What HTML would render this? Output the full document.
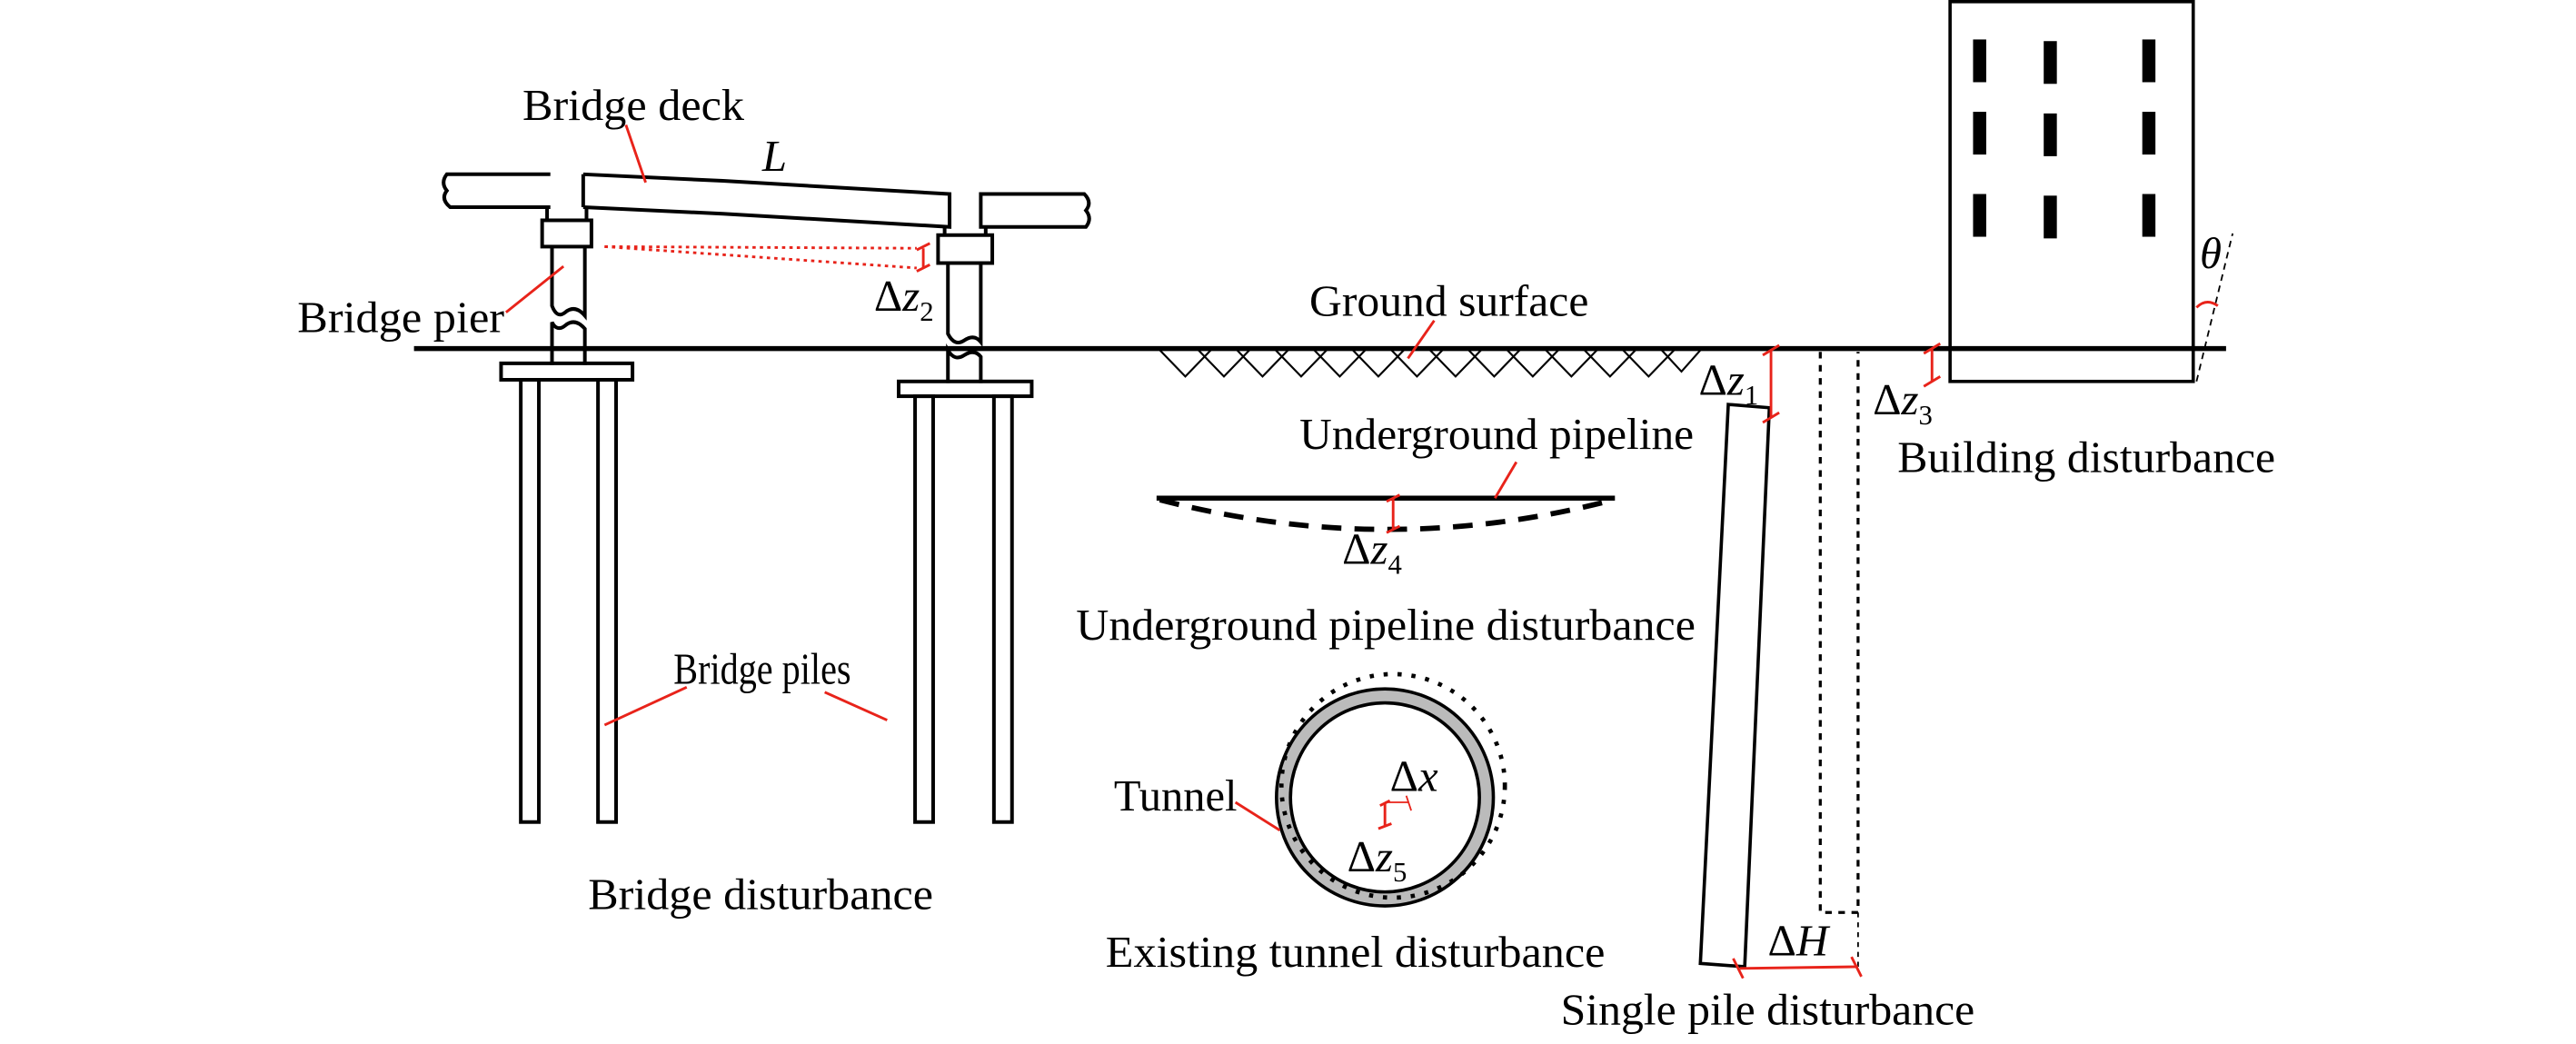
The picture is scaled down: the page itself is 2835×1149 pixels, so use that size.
<!DOCTYPE html>
<html><head><meta charset="utf-8"><style>
html,body{margin:0;padding:0;background:#fff;}
svg{display:block;}
text{font-family:"Liberation Serif",serif;fill:#000;}
</style></head><body>
<svg width="2835" height="1149" viewBox="0 0 1568 635" preserveAspectRatio="none" xmlns="http://www.w3.org/2000/svg">
<g fill="none" stroke="#000" stroke-width="2.2">
<line x1="252" y1="212" x2="1355" y2="212" stroke-width="3"/>
<path stroke-width="1.2" d="M706,213 l15.5,16 l15.5,-16 M729.5,213 l15.5,16 l15.5,-16 M753,213 l15.5,16 l15.5,-16 M776.5,213 l15.5,16 l15.5,-16 M800,213 l15.5,16 l15.5,-16 M823.5,213 l15.5,16 l15.5,-16 M847,213 l15.5,16 l15.5,-16 M870.5,213 l15.5,16 l15.5,-16 M894,213 l15.5,16 l15.5,-16 M917.5,213 l15.5,16 l15.5,-16 M941,213 l15.5,16 l15.5,-16 M964.5,213 l15.5,16 l15.5,-16 M988,213 l15.5,16 l15.5,-16 M1011.5,213 l12,13 l11.5,-13"/>
<path d="M335,106 L272,106 Q268,111 272,116 Q268,121 274,126 L335,126"/>
<path d="M355,106 L355,126 M355,106 L440,110 L578,118 L578,138 L440,130 L355,126"/>
<path d="M597,138 L597,118 L660,118 Q665,123 661,128 Q665,133 661,138 Z"/>
<line x1="333" y1="126" x2="333" y2="134"/><line x1="357" y1="126" x2="357" y2="134"/>
<line x1="575" y1="138" x2="575" y2="143"/><line x1="600" y1="138" x2="600" y2="143"/>
<rect x="330" y="134" width="30" height="16"/>
<path d="M336,150 L336,186 Q339,194 344,190 Q350,185 356,192 L356,150"/>
<path d="M336,222 L336,196 Q339,202 344,198 Q350,193 356,200 L356,222"/>
<rect x="305" y="221" width="80" height="10"/>
<rect x="317" y="231" width="11" height="269"/>
<rect x="364" y="231" width="11" height="269"/>
<rect x="571" y="143" width="33" height="17"/>
<path d="M577,160 L577,203 Q581,211 587,207 Q593,203 597,208 L597,160"/>
<path d="M577,233 L577,213 Q581,220 587,216 Q593,212 597,217 L597,233"/>
<rect x="547" y="232" width="81" height="9"/>
<rect x="557" y="241" width="11" height="259"/>
<rect x="605" y="241" width="11" height="259"/>
<line x1="704" y1="303" x2="983" y2="303" stroke-width="3"/>
<path d="M706,304 Q845,340 982,304" stroke-width="3.2" stroke-dasharray="12,8"/>
<circle cx="843" cy="485" r="61.5" stroke="#bbb" stroke-width="8"/>
<circle cx="843" cy="485" r="66" stroke-width="2"/>
<circle cx="843" cy="485" r="57.5" stroke-width="2"/>
<circle cx="848" cy="478" r="68" stroke-width="2.6" stroke-dasharray="2.5,6"/>
<path d="M1052,246 L1077,248 L1062,588 L1035,586 Z" stroke-width="2"/>
<path d="M1108,214 L1108,555 L1131,555 L1131,214" stroke-width="1.8" stroke-dasharray="4,4"/>
<line x1="1131" y1="555" x2="1131" y2="588" stroke-width="1" stroke-dasharray="3,3"/>
<rect x="1187" y="1" width="148" height="231" stroke-width="2"/>
<line x1="1337" y1="232" x2="1359" y2="142" stroke-width="1" stroke-dasharray="4,3"/>
</g>
<g fill="#000">
<rect x="1201" y="24" width="8" height="26"/><rect x="1244" y="25" width="8" height="26"/><rect x="1304" y="24" width="8" height="26"/>
<rect x="1201" y="68" width="8" height="26"/><rect x="1244" y="69" width="8" height="26"/><rect x="1304" y="68" width="8" height="26"/>
<rect x="1201" y="118" width="8" height="26"/><rect x="1244" y="119" width="8" height="26"/><rect x="1304" y="118" width="8" height="26"/>
</g>
<g stroke="#e8231a" fill="none" stroke-width="1.6">
<line x1="381" y1="76" x2="393" y2="111"/>
<line x1="308" y1="190" x2="343" y2="162"/>
<line x1="368" y1="150" x2="558" y2="151" stroke-dasharray="2,2.5"/>
<line x1="368" y1="150" x2="558" y2="163" stroke-dasharray="2,2.5"/>
<line x1="562" y1="151" x2="562" y2="163"/><line x1="558" y1="152" x2="566" y2="148"/><line x1="558" y1="165" x2="566" y2="161"/>
<line x1="368" y1="441" x2="418" y2="418"/>
<line x1="540" y1="438" x2="502" y2="421"/>
<line x1="857" y1="218" x2="873" y2="195"/>
<line x1="910" y1="303" x2="923" y2="281"/>
<line x1="848" y1="303" x2="848" y2="322"/><line x1="844" y1="305" x2="852" y2="301"/><line x1="844" y1="324" x2="852" y2="320"/>
<line x1="752" y1="488" x2="779" y2="505"/>
<line x1="843" y1="489" x2="843" y2="502"/><line x1="839" y1="504" x2="847" y2="501"/><line x1="840" y1="490" x2="846" y2="487"/>
<line x1="843" y1="488" x2="857" y2="488" stroke-width="1"/><line x1="856" y1="484" x2="859" y2="493" stroke-width="1"/>
<line x1="1078" y1="213" x2="1078" y2="254"/><line x1="1073" y1="216" x2="1083" y2="210"/><line x1="1073" y1="257" x2="1083" y2="251"/>
<line x1="1176" y1="212" x2="1176" y2="232"/><line x1="1171" y1="215" x2="1181" y2="209"/><line x1="1171" y1="235" x2="1181" y2="229"/>
<line x1="1059" y1="589" x2="1131" y2="588"/><line x1="1055" y1="583" x2="1061" y2="595"/><line x1="1127" y1="582" x2="1133" y2="594"/>
<path d="M1337,187 Q1343,181 1350,186"/>
</g>
<g font-size="27" lengthAdjust="spacingAndGlyphs">
<text x="318" y="73" textLength="135" lengthAdjust="spacingAndGlyphs">Bridge deck</text>
<text x="464" y="104" font-style="italic">L</text>
<text x="181" y="202" textLength="126" lengthAdjust="spacingAndGlyphs">Bridge pier</text>
<text x="532" y="189">Δ<tspan font-style="italic">z</tspan><tspan font-size="17" dy="6">2</tspan></text>
<text x="797" y="192" textLength="170" lengthAdjust="spacingAndGlyphs">Ground surface</text>
<text x="791" y="273" textLength="240" lengthAdjust="spacingAndGlyphs">Underground pipeline</text>
<text x="817" y="343">Δ<tspan font-style="italic">z</tspan><tspan font-size="17" dy="6">4</tspan></text>
<text x="655" y="389" textLength="377" lengthAdjust="spacingAndGlyphs">Underground pipeline disturbance</text>
<text x="410" y="416" textLength="108" lengthAdjust="spacingAndGlyphs">Bridge piles</text>
<text x="678" y="493" textLength="75" lengthAdjust="spacingAndGlyphs">Tunnel</text>
<text x="846" y="481">Δ<tspan font-style="italic">x</tspan></text>
<text x="820" y="530">Δ<tspan font-style="italic">z</tspan><tspan font-size="17" dy="6">5</tspan></text>
<text x="358" y="553" textLength="210" lengthAdjust="spacingAndGlyphs">Bridge disturbance</text>
<text x="673" y="588" textLength="304" lengthAdjust="spacingAndGlyphs">Existing tunnel disturbance</text>
<text x="1034" y="240">Δ<tspan font-style="italic">z</tspan><tspan font-size="17" dy="6">1</tspan></text>
<text x="1140" y="252">Δ<tspan font-style="italic">z</tspan><tspan font-size="17" dy="6">3</tspan></text>
<text x="1155" y="287" textLength="230" lengthAdjust="spacingAndGlyphs">Building disturbance</text>
<text x="1339" y="163" font-style="italic">θ</text>
<text x="1076" y="581">Δ<tspan font-style="italic">H</tspan></text>
<text x="950" y="623" textLength="252" lengthAdjust="spacingAndGlyphs">Single pile disturbance</text>
</g>
</svg>
</body></html>
